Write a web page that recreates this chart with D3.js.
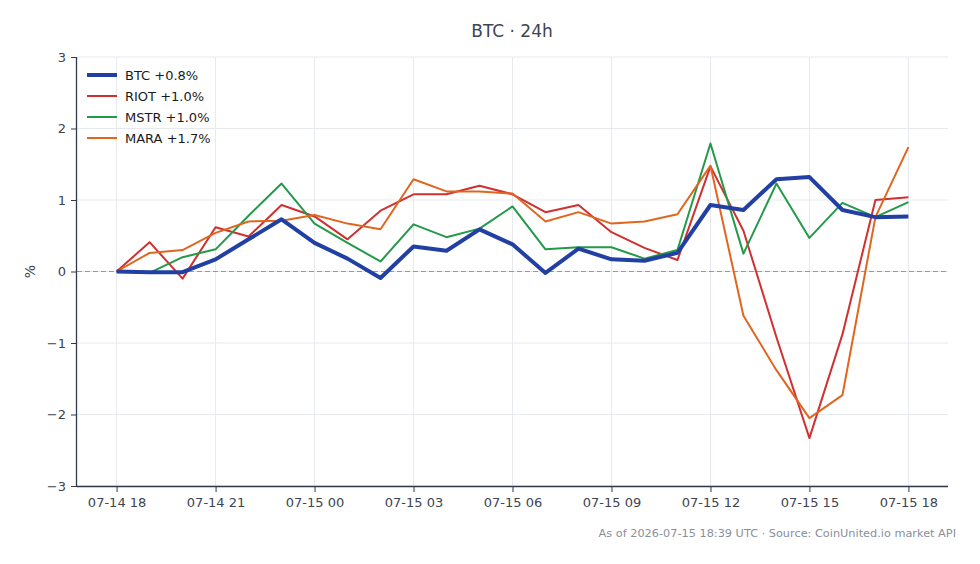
<!DOCTYPE html>
<html>
<head>
<meta charset="utf-8">
<script src="https://cdn.jsdelivr.net/npm/d3@7"></script>
<style>
  body { margin: 0; background: #fff; font-family: "DejaVu Sans", sans-serif; }
  .grid line { stroke: #e6e9ee; stroke-width: 1; }
  .axis text { fill: #3d4452; font-size: 13px; font-family: "DejaVu Sans", sans-serif; }
  .axis path, .axis line { stroke: #2f3a4a; }
</style>
</head>
<body>
<div id="chart"></div>
<script>
// hours since 07-14 18:00 UTC
var hours = d3.range(0, 25);
var tickHours = [0, 3, 6, 9, 12, 15, 18, 21, 24];
var tickLabels = ["07-14 18", "07-14 21", "07-15 00", "07-15 03", "07-15 06", "07-15 09", "07-15 12", "07-15 15", "07-15 18"];
var yTicks = [-3, -2, -1, 0, 1, 2, 3];

var btc  = [0, -0.01, -0.01, 0.17, 0.45, 0.73, 0.40, 0.18, -0.09, 0.35, 0.29, 0.59, 0.38, -0.02, 0.32, 0.17, 0.15, 0.26, 0.93, 0.86, 1.29, 1.32, 0.86, 0.76, 0.77];
var riot = [0, 0.41, -0.10, 0.62, 0.49, 0.93, 0.77, 0.45, 0.85, 1.08, 1.08, 1.20, 1.08, 0.83, 0.93, 0.55, 0.33, 0.16, 1.47, 0.57, -0.92, -2.33, -0.88, 1.00, 1.04];
var mstr = [0, -0.02, 0.20, 0.31, 0.78, 1.23, 0.67, 0.40, 0.14, 0.66, 0.48, 0.60, 0.91, 0.31, 0.34, 0.34, 0.18, 0.30, 1.79, 0.25, 1.23, 0.47, 0.96, 0.76, 0.97];
var mara = [0, 0.26, 0.30, 0.54, 0.70, 0.71, 0.79, 0.67, 0.59, 1.29, 1.12, 1.12, 1.09, 0.70, 0.83, 0.67, 0.70, 0.80, 1.48, -0.62, -1.38, -2.05, -1.73, 0.76, 1.74];

var names = ["BTC", "RIOT", "MSTR", "MARA"];
var seriesValues = [btc, riot, mstr, mara];
var colors = ["#2240a3", "#d0302f", "#23994a", "#e0661f"];
var widths = [4, 2, 2, 2];

var width = 980, height = 564;
var margin = {top: 57, right: 32, bottom: 78, left: 77};
var innerW = width - margin.left - margin.right;
var innerH = height - margin.top - margin.bottom;

var svg = d3.select("#chart").append("svg")
    .attr("width", width)
    .attr("height", height);

var g = svg.append("g")
    .attr("transform", "translate(" + margin.left + "," + margin.top + ")");

var x = d3.scaleLinear().domain([-1.2, 25.2]).range([0, innerW]);
var y = d3.scaleLinear().domain([-3, 3]).range([innerH, 0]);

// grid
g.append("g").attr("class", "grid")
    .selectAll("line.v").data(tickHours).enter().append("line")
    .attr("x1", function(d) { return x(d); })
    .attr("x2", function(d) { return x(d); })
    .attr("y1", 0).attr("y2", innerH);
g.append("g").attr("class", "grid")
    .selectAll("line.h").data(yTicks).enter().append("line")
    .attr("x1", 0).attr("x2", innerW)
    .attr("y1", function(d) { return y(d); })
    .attr("y2", function(d) { return y(d); });

// zero line
g.append("line")
    .attr("x1", 0).attr("x2", innerW)
    .attr("y1", y(0)).attr("y2", y(0))
    .attr("stroke", "#8b9bb0")
    .attr("stroke-width", 1.2)
    .attr("stroke-dasharray", "5,3");

// axes
var xAxis = d3.axisBottom(x)
    .tickValues(tickHours)
    .tickFormat(function(d, i) { return tickLabels[i]; })
    .tickSize(6).tickPadding(6);
g.append("g").attr("class", "axis")
    .attr("transform", "translate(0," + innerH + ")")
    .call(xAxis)
    .call(function(s) { s.select(".domain").attr("d", "M0,0.5H" + innerW).attr("stroke-width", 1.3); });

var yAxis = d3.axisLeft(y)
    .tickValues(yTicks)
    .tickFormat(function(d) { return d < 0 ? "\u2212" + Math.abs(d) : d; })
    .tickSize(6).tickPadding(5);
g.append("g").attr("class", "axis")
    .call(yAxis)
    .call(function(s) { s.select(".domain").attr("d", "M-0.5,0V" + innerH).attr("stroke-width", 1.3); });

// lines (BTC drawn last so it sits on top)
var line = d3.line()
    .x(function(d, i) { return x(hours[i]); })
    .y(function(d) { return y(d); });

[1, 2, 3, 0].forEach(function(k) {
    g.append("path")
        .datum(seriesValues[k])
        .attr("fill", "none")
        .attr("stroke", colors[k])
        .attr("stroke-width", widths[k])
        .attr("stroke-linejoin", "round")
        .attr("d", line);
});

// legend
var legend = g.append("g").attr("transform", "translate(10,18)");
names.forEach(function(n, i) {
    var vals = seriesValues[i];
    var last = vals[vals.length - 1];
    var row = legend.append("g").attr("transform", "translate(0," + (i * 21) + ")");
    row.append("line")
        .attr("x1", 0).attr("x2", 30)
        .attr("stroke", colors[i])
        .attr("stroke-width", widths[i]);
    row.append("text")
        .attr("x", 38).attr("y", 4.5)
        .attr("font-size", 13)
        .attr("fill", "#1a1a1a")
        .text(n + " " + (last >= 0 ? "+" : "\u2212") + Math.abs(last).toFixed(1) + "%");
});

// y label
svg.append("text")
    .attr("transform", "translate(35," + (margin.top + y(0)) + ")rotate(-90)")
    .attr("text-anchor", "middle")
    .attr("font-size", 14)
    .attr("fill", "#3d4452")
    .text("%");

// title
svg.append("text")
    .attr("x", 512).attr("y", 37)
    .attr("text-anchor", "middle")
    .attr("font-size", 17)
    .attr("fill", "#3d4452")
    .text("BTC \u00b7 24h");

// footer
svg.append("text")
    .attr("x", 956).attr("y", 537)
    .attr("text-anchor", "end")
    .attr("font-size", 11.3)
    .attr("fill", "#8a909a")
    .text("As of 2026-07-15 18:39 UTC \u00b7 Source: CoinUnited.io market API");
</script>
</body>
</html>
